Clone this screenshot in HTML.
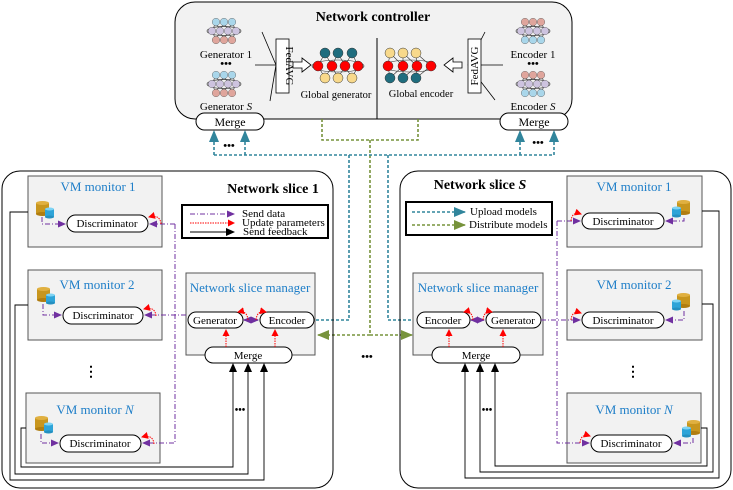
<!DOCTYPE html>
<html><head><meta charset="utf-8"><style>
html,body{margin:0;padding:0;background:#fff}
svg{display:block}
text{font-family:"Liberation Serif",serif}
</style></head><body>
<svg width="733" height="490" viewBox="0 0 733 490" xmlns="http://www.w3.org/2000/svg">
<defs>
<marker id="mp" markerWidth="8" markerHeight="8" refX="7" refY="4" orient="auto" markerUnits="userSpaceOnUse"><path d="M0,0.5 L8,4 L0,7.5z" fill="#7030a0"/></marker>
<marker id="mr" markerWidth="7" markerHeight="7" refX="6" refY="3.5" orient="auto" markerUnits="userSpaceOnUse"><path d="M0,0 L7,3.5 L0,7z" fill="#f00"/></marker>
<marker id="mk" markerWidth="9" markerHeight="9" refX="8" refY="4.5" orient="auto" markerUnits="userSpaceOnUse"><path d="M0,0.5 L9,4.5 L0,8.5z" fill="#000"/></marker>
<marker id="mb" markerWidth="12" markerHeight="12" refX="11" refY="6" orient="auto" markerUnits="userSpaceOnUse"><path d="M0,1 L12,6 L0,11z" fill="#31859c"/></marker>
<marker id="mg" markerWidth="12" markerHeight="12" refX="11" refY="6" orient="auto" markerUnits="userSpaceOnUse"><path d="M0,1 L12,6 L0,11z" fill="#77933c"/></marker>
<g id="db">
<rect x="0" y="2" width="13" height="11" fill="#c8961e"/>
<ellipse cx="6.5" cy="13" rx="6.5" ry="2" fill="#b07d10"/>
<ellipse cx="6.5" cy="2" rx="6.5" ry="2" fill="#e0b040"/>
<rect x="9" y="8" width="9" height="8" fill="#2ea4d8"/>
<ellipse cx="13.5" cy="16" rx="4.5" ry="1.5" fill="#2590c0"/>
<ellipse cx="13.5" cy="8" rx="4.5" ry="1.5" fill="#7fd4f4"/>
</g>
<g id="nnG">
<ellipse cx="0" cy="0" rx="17" ry="4.5" fill="none" stroke="#333" stroke-width="0.7"/>
<path d="M-8,-9 L-12,0 M-8,-9 L-4,0 M0,-9 L-4,0 M0,-9 L4,0 M8,-9 L4,0 M8,-9 L12,0 M-8,9 L-12,0 M-8,9 L-4,0 M0,9 L-4,0 M0,9 L4,0 M8,9 L4,0 M8,9 L12,0" stroke="#333" stroke-width="0.6"/>
<circle cx="-8" cy="-9" r="3.8" fill="#a9d6ea" stroke="#555" stroke-width="0.4"/><circle cx="0" cy="-9" r="3.8" fill="#a9d6ea" stroke="#555" stroke-width="0.4"/><circle cx="8" cy="-9" r="3.8" fill="#a9d6ea" stroke="#555" stroke-width="0.4"/>
<circle cx="-12" cy="0" r="3.8" fill="#cdc3df" stroke="#555" stroke-width="0.4"/><circle cx="-4" cy="0" r="3.8" fill="#cdc3df" stroke="#555" stroke-width="0.4"/><circle cx="4" cy="0" r="3.8" fill="#cdc3df" stroke="#555" stroke-width="0.4"/><circle cx="12" cy="0" r="3.8" fill="#cdc3df" stroke="#555" stroke-width="0.4"/>
<circle cx="-8" cy="9" r="3.8" fill="#dfa59c" stroke="#555" stroke-width="0.4"/><circle cx="0" cy="9" r="3.8" fill="#dfa59c" stroke="#555" stroke-width="0.4"/><circle cx="8" cy="9" r="3.8" fill="#dfa59c" stroke="#555" stroke-width="0.4"/>
</g>
<g id="nnE">
<ellipse cx="0" cy="0" rx="17" ry="4.5" fill="none" stroke="#333" stroke-width="0.7"/>
<path d="M-8,-9 L-12,0 M-8,-9 L-4,0 M0,-9 L-4,0 M0,-9 L4,0 M8,-9 L4,0 M8,-9 L12,0 M-8,9 L-12,0 M-8,9 L-4,0 M0,9 L-4,0 M0,9 L4,0 M8,9 L4,0 M8,9 L12,0" stroke="#333" stroke-width="0.6"/>
<circle cx="-8" cy="-9" r="3.8" fill="#dfa59c" stroke="#555" stroke-width="0.4"/><circle cx="0" cy="-9" r="3.8" fill="#dfa59c" stroke="#555" stroke-width="0.4"/><circle cx="8" cy="-9" r="3.8" fill="#dfa59c" stroke="#555" stroke-width="0.4"/>
<circle cx="-12" cy="0" r="3.8" fill="#cdc3df" stroke="#555" stroke-width="0.4"/><circle cx="-4" cy="0" r="3.8" fill="#cdc3df" stroke="#555" stroke-width="0.4"/><circle cx="4" cy="0" r="3.8" fill="#cdc3df" stroke="#555" stroke-width="0.4"/><circle cx="12" cy="0" r="3.8" fill="#cdc3df" stroke="#555" stroke-width="0.4"/>
<circle cx="-8" cy="9" r="3.8" fill="#a9d6ea" stroke="#555" stroke-width="0.4"/><circle cx="0" cy="9" r="3.8" fill="#a9d6ea" stroke="#555" stroke-width="0.4"/><circle cx="8" cy="9" r="3.8" fill="#a9d6ea" stroke="#555" stroke-width="0.4"/>
</g>
</defs>

<!-- Controller -->
<rect x="175" y="2" width="397" height="117" rx="20" fill="#f2f2f2" stroke="#000" stroke-width="1"/>
<text x="373" y="21" font-size="14" font-weight="bold" text-anchor="middle">Network controller</text>
<line x1="377" y1="38" x2="377" y2="119" stroke="#000"/>
<use href="#nnG" x="224" y="31"/>
<text x="226" y="58" font-size="11" text-anchor="middle">Generator 1</text>
<text x="226" y="67" font-size="11" text-anchor="middle" font-weight="bold">•••</text>
<use href="#nnG" x="224" y="84"/>
<text x="226" y="110" font-size="11" text-anchor="middle">Generator <tspan font-style="italic">S</tspan></text>
<use href="#nnE" x="533" y="31"/>
<text x="533" y="58" font-size="11" text-anchor="middle">Encoder 1</text>
<text x="533" y="67" font-size="11" text-anchor="middle" font-weight="bold">•••</text>
<use href="#nnE" x="533" y="84"/>
<text x="533" y="110" font-size="11" text-anchor="middle">Encoder <tspan font-style="italic">S</tspan></text>
<path d="M262,32 L276,65 L270,101 M255,65 L276,65" fill="none" stroke="#000" stroke-width="0.8"/>
<path d="M485,32 L468,65 L495,100 M468,65 L503,65" fill="none" stroke="#000" stroke-width="0.8"/>
<rect x="276" y="39" width="13" height="54" fill="#fff" stroke="#000" stroke-width="0.8"/>
<text transform="translate(286,66) rotate(90)" font-size="11" text-anchor="middle">FedAVG</text>
<rect x="468" y="39" width="13" height="54" fill="#fff" stroke="#000" stroke-width="0.8"/>
<text transform="translate(478,66) rotate(-90)" font-size="11" text-anchor="middle">FedAVG</text>
<path d="M293,62 L302,62 L302,58 L311,65 L302,72 L302,68 L293,68z" fill="#fff" stroke="#000" stroke-width="0.8"/>
<path d="M462,62 L453,62 L453,58 L444,65 L453,72 L453,68 L462,68z" fill="#fff" stroke="#000" stroke-width="0.8"/>
<g stroke="#333" stroke-width="0.6" fill="none">
<ellipse cx="338" cy="66" rx="26" ry="6"/>
<path d="M325,53 L318,66 M325,53 L332,66 M338,53 L332,66 M338,53 L345,66 M352,53 L345,66 M352,53 L358,66 M325,78 L318,66 M325,78 L332,66 M338,78 L332,66 M338,78 L345,66 M352,78 L345,66 M352,78 L358,66"/>
<ellipse cx="410" cy="66" rx="26" ry="6"/>
<path d="M390,53 L388,66 M390,53 L403,66 M403,53 L403,66 M403,53 L417,66 M416,53 L417,66 M416,53 L431,66 M390,78 L388,66 M390,78 L403,66 M403,78 L403,66 M403,78 L417,66 M416,78 L417,66 M416,78 L431,66"/>
</g>
<g stroke="#333" stroke-width="0.5">
<circle cx="325" cy="53" r="5" fill="#1f6d7e"/><circle cx="338" cy="53" r="5" fill="#1f6d7e"/><circle cx="352" cy="53" r="5" fill="#1f6d7e"/>
<circle cx="318" cy="66" r="5" fill="#f00"/><circle cx="332" cy="66" r="5" fill="#f00"/><circle cx="345" cy="66" r="5" fill="#f00"/><circle cx="358" cy="66" r="5" fill="#f00"/>
<circle cx="325" cy="78" r="5" fill="#f8d98b"/><circle cx="338" cy="78" r="5" fill="#f8d98b"/><circle cx="352" cy="78" r="5" fill="#f8d98b"/>
<circle cx="390" cy="53" r="5" fill="#f8d98b"/><circle cx="403" cy="53" r="5" fill="#f8d98b"/><circle cx="416" cy="53" r="5" fill="#f8d98b"/>
<circle cx="388" cy="66" r="5" fill="#f00"/><circle cx="403" cy="66" r="5" fill="#f00"/><circle cx="417" cy="66" r="5" fill="#f00"/><circle cx="431" cy="66" r="5" fill="#f00"/>
<circle cx="390" cy="78" r="5" fill="#1f6d7e"/><circle cx="403" cy="78" r="5" fill="#1f6d7e"/><circle cx="416" cy="78" r="5" fill="#1f6d7e"/>
</g>
<text x="336" y="98" font-size="10.5" text-anchor="middle">Global generator</text>
<text x="421" y="97" font-size="10.5" text-anchor="middle">Global encoder</text>
<rect x="196" y="113" width="68" height="17" rx="8.5" fill="#fff" stroke="#000"/>
<text x="230" y="126" font-size="12" text-anchor="middle">Merge</text>
<rect x="500" y="113" width="68" height="17" rx="8.5" fill="#fff" stroke="#000"/>
<text x="534" y="126" font-size="12" text-anchor="middle">Merge</text>

<g fill="none" stroke-dasharray="3 2" stroke-width="1.6">
<path d="M322,119 V140 H418 V119" stroke="#77933c"/>
<path d="M370,140 V335" stroke="#77933c"/>
<path d="M370,335 H318" stroke="#77933c" marker-end="url(#mg)"/>
<path d="M370,335 H412" stroke="#77933c" marker-end="url(#mg)"/>
<path d="M214,155 H554" stroke="#31859c"/>
<path d="M214,155 V131" stroke="#31859c" marker-end="url(#mb)"/>
<path d="M245,155 V131" stroke="#31859c" marker-end="url(#mb)"/>
<path d="M520,155 V131" stroke="#31859c" marker-end="url(#mb)"/>
<path d="M554,155 V131" stroke="#31859c" marker-end="url(#mb)"/>
<path d="M349,155 V320 H315" stroke="#31859c"/>
<path d="M388,155 V320 H417" stroke="#31859c"/>
</g>
<text x="229" y="149" font-size="11" text-anchor="middle" font-weight="bold">•••</text>
<text x="538" y="146" font-size="11" text-anchor="middle" font-weight="bold">•••</text>
<text x="367" y="360" font-size="11" text-anchor="middle" font-weight="bold">•••</text>

<!-- Left slice -->
<rect x="2" y="171" width="331" height="317" rx="18" fill="none" stroke="#000"/>
<text x="273" y="193" font-size="14" font-weight="bold" text-anchor="middle">Network slice 1</text>
<rect x="182" y="205" width="146" height="33" fill="#fff" stroke="#000" stroke-width="2"/>
<line x1="190" y1="214" x2="234" y2="214" stroke="#7030a0" stroke-dasharray="5 2 1 2" marker-end="url(#mp)"/>
<line x1="190" y1="223" x2="234" y2="223" stroke="#f00" stroke-dasharray="1.5 1" marker-end="url(#mr)"/>
<line x1="190" y1="232" x2="234" y2="232" stroke="#000" marker-end="url(#mk)"/>
<text x="242" y="217" font-size="11">Send data</text>
<text x="242" y="226" font-size="11">Update parameters</text>
<text x="243" y="235" font-size="11">Send feedback</text>

<g fill="#f2f2f2" stroke="#555">
<rect x="28" y="176" width="134" height="71"/>
<rect x="28" y="270" width="134" height="70"/>
<rect x="26" y="393" width="134" height="70"/>
<rect x="186" y="273" width="129" height="82"/>
</g>
<g font-size="13" fill="#1e7ec8" text-anchor="middle">
<text x="98" y="191">VM monitor 1</text>
<text x="97" y="289">VM monitor 2</text>
<text x="95" y="414">VM monitor <tspan font-style="italic">N</tspan></text>
<text x="250" y="292">Network slice manager</text>
</g>
<use href="#db" x="36" y="201"/>
<use href="#db" x="37" y="287"/>
<use href="#db" x="35" y="416"/>
<g fill="#fff" stroke="#000">
<rect x="67" y="215" width="81" height="17" rx="8.5"/>
<rect x="63" y="307" width="80" height="17" rx="8.5"/>
<rect x="60" y="435" width="81" height="17" rx="8.5"/>
<rect x="188" y="312" width="55" height="16" rx="8"/>
<rect x="260" y="312" width="54" height="16" rx="8"/>
<rect x="205" y="347" width="87" height="16" rx="8"/>
</g>
<g font-size="11" text-anchor="middle">
<text x="107" y="227">Discriminator</text>
<text x="103" y="319">Discriminator</text>
<text x="100" y="447">Discriminator</text>
<text x="215" y="324">Generator</text>
<text x="287" y="324">Encoder</text>
<text x="248" y="359">Merge</text>
</g>
<text x="91" y="376" font-size="14" text-anchor="middle" font-weight="bold">⋮</text>
<text x="240" y="413" font-size="10" text-anchor="middle" font-weight="bold">•••</text>
<g fill="none" stroke="#7030a0" stroke-dasharray="5 2 1 2">
<path d="M42,217 V224 H65" marker-end="url(#mp)"/>
<path d="M43,304 V315 H61" marker-end="url(#mp)"/>
<path d="M41,434 V443 H58" marker-end="url(#mp)"/>
<path d="M175,224 H150" marker-end="url(#mp)"/>
<path d="M175,224 V443 H143" marker-end="url(#mp)"/>
<path d="M186,315 H145" marker-end="url(#mp)"/>
</g>
<path d="M246,320 H258" stroke="#7030a0" stroke-width="1.5" marker-end="url(#mp)"/>
<path d="M256,320 H244" stroke="#7030a0" stroke-width="1.5" marker-end="url(#mp)"/>
<g fill="none" stroke="#f00" stroke-dasharray="1.5 1">
<path d="M161,224 Q160,214 149,217" marker-end="url(#mr)"/>
<path d="M156,316 Q155,306 144,309" marker-end="url(#mr)"/>
<path d="M154,444 Q153,434 142,437" marker-end="url(#mr)"/>
<path d="M248,320 Q247,310 238,312" marker-end="url(#mr)"/>
<path d="M256,320 Q257,310 266,312" marker-end="url(#mr)"/>
<path d="M226,347 V330" marker-end="url(#mr)"/>
<path d="M275,347 V330" marker-end="url(#mr)"/>
</g>
<g fill="none" stroke="#000" stroke-width="0.9">
<path d="M28,212 H10 V480 H264 V364" marker-end="url(#mk)"/>
<path d="M28,305 H15 V474 H248 V364" marker-end="url(#mk)"/>
<path d="M26,428 H21 V467 H233 V364" marker-end="url(#mk)"/>
</g>

<!-- Right slice -->
<rect x="400" y="171" width="331" height="317" rx="18" fill="none" stroke="#000"/>
<text x="480" y="189" font-size="14" font-weight="bold" text-anchor="middle">Network slice <tspan font-style="italic">S</tspan></text>
<rect x="406" y="202" width="146" height="33" fill="#fff" stroke="#000" stroke-width="2"/>
<line x1="412" y1="212" x2="465" y2="212" stroke="#31859c" stroke-width="1.6" stroke-dasharray="3 2" marker-end="url(#mb)"/>
<line x1="412" y1="225" x2="465" y2="225" stroke="#77933c" stroke-width="1.6" stroke-dasharray="3 2" marker-end="url(#mg)"/>
<text x="470" y="215" font-size="11">Upload models</text>
<text x="469" y="228" font-size="11">Distribute models</text>
<g fill="#f2f2f2" stroke="#555">
<rect x="567" y="176" width="135" height="71"/>
<rect x="567" y="270" width="135" height="70"/>
<rect x="567" y="393" width="134" height="70"/>
<rect x="413" y="273" width="130" height="82"/>
</g>
<g font-size="13" fill="#1e7ec8" text-anchor="middle">
<text x="634" y="191">VM monitor 1</text>
<text x="634" y="289">VM monitor 2</text>
<text x="634" y="414">VM monitor <tspan font-style="italic">N</tspan></text>
<text x="478" y="292">Network slice manager</text>
</g>
<use href="#db" transform="translate(690,200) scale(-1,1)"/>
<use href="#db" transform="translate(690,293) scale(-1,1)"/>
<use href="#db" transform="translate(700,420) scale(-1,1)"/>
<g fill="#fff" stroke="#000">
<rect x="582" y="213" width="82" height="16" rx="8"/>
<rect x="582" y="312" width="82" height="16" rx="8"/>
<rect x="591" y="435" width="81" height="17" rx="8.5"/>
<rect x="417" y="312" width="53" height="16" rx="8"/>
<rect x="486" y="312" width="55" height="16" rx="8"/>
<rect x="432" y="347" width="88" height="16" rx="8"/>
</g>
<g font-size="11" text-anchor="middle">
<text x="623" y="225">Discriminator</text>
<text x="623" y="324">Discriminator</text>
<text x="631" y="447">Discriminator</text>
<text x="443" y="324">Encoder</text>
<text x="513" y="324">Generator</text>
<text x="476" y="359">Merge</text>
</g>
<text x="633" y="376" font-size="14" text-anchor="middle" font-weight="bold">⋮</text>
<text x="487" y="413" font-size="10" text-anchor="middle" font-weight="bold">•••</text>
<g fill="none" stroke="#7030a0" stroke-dasharray="5 2 1 2">
<path d="M684,218 V221 H666" marker-end="url(#mp)"/>
<path d="M684,311 V320 H666" marker-end="url(#mp)"/>
<path d="M693,438 V443 H674" marker-end="url(#mp)"/>
<path d="M557,221 H580" marker-end="url(#mp)"/>
<path d="M541,320 H580" marker-end="url(#mp)"/>
<path d="M557,221 V443 H589" marker-end="url(#mp)"/>
</g>
<path d="M473,320 H484" stroke="#7030a0" stroke-width="1.5" marker-end="url(#mp)"/>
<path d="M482,320 H471" stroke="#7030a0" stroke-width="1.5" marker-end="url(#mp)"/>
<g fill="none" stroke="#f00" stroke-dasharray="1.5 1">
<path d="M571,221 Q572,211 581,214" marker-end="url(#mr)"/>
<path d="M571,320 Q572,310 581,313" marker-end="url(#mr)"/>
<path d="M580,443 Q581,433 590,436" marker-end="url(#mr)"/>
<path d="M473,320 Q472,310 464,312" marker-end="url(#mr)"/>
<path d="M483,320 Q484,310 492,312" marker-end="url(#mr)"/>
<path d="M449,347 V330" marker-end="url(#mr)"/>
<path d="M503,347 V330" marker-end="url(#mr)"/>
</g>
<g fill="none" stroke="#000" stroke-width="0.9">
<path d="M702,211 H719 V478 H465 V364" marker-end="url(#mk)"/>
<path d="M702,304 H713 V472 H480 V364" marker-end="url(#mk)"/>
<path d="M701,428 H707 V466 H495 V364" marker-end="url(#mk)"/>
</g>
</svg>
</body></html>
